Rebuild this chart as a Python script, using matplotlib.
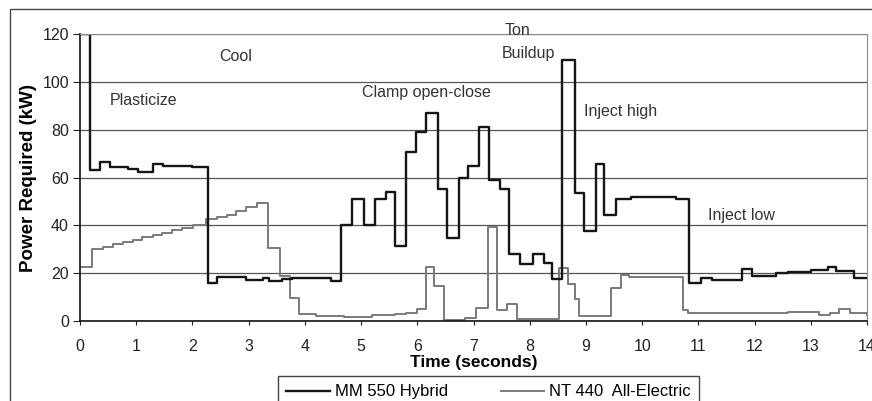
import matplotlib
matplotlib.use("Agg")
import matplotlib.pyplot as plt
from matplotlib.patches import Rectangle

plt.rcParams['font.family'] = ['Liberation Sans', 'DejaVu Sans']

# step start times (s) and power (kW) for each machine
hybrid_t = [0.00, 0.18, 0.36, 0.53, 0.85, 1.03, 1.30, 1.47, 2.00, 2.28,
            2.43, 2.70, 2.95, 3.25, 3.37, 3.60, 3.78, 4.47, 4.65, 4.83,
            5.06, 5.24, 5.45, 5.60, 5.80, 5.98, 6.16, 6.36, 6.52, 6.75,
            6.91, 7.10, 7.28, 7.48, 7.64, 7.82, 8.05, 8.25, 8.40, 8.58,
            8.80, 8.97, 9.18, 9.33, 9.53, 9.80, 10.20, 10.60, 10.83, 11.05,
            11.25, 11.78, 11.96, 12.38, 12.60, 13.00, 13.30, 13.45, 13.77, 14.00]
hybrid_kw = [120, 63, 66.5, 64.3, 63.6, 62.3, 65.8, 65, 64.5, 15.8,
             18.2, 18.6, 17.2, 17.8, 16.8, 17.6, 18.0, 16.8, 40.3, 51,
             40.3, 51, 53.8, 31.5, 70.6, 79, 87, 55, 34.5, 60,
             65, 81, 59, 55, 28, 24, 28, 24.4, 17.6, 109,
             53.4, 37.8, 65.5, 44.5, 51, 52, 51.8, 51, 16, 18,
             17.2, 21.8, 19, 20, 20.5, 21.2, 22.7, 21, 18, 18]

electric_t = [0.00, 0.21, 0.41, 0.59, 0.77, 0.95, 1.10, 1.30, 1.45, 1.63,
              1.81, 2.01, 2.25, 2.43, 2.61, 2.78, 2.96, 3.14, 3.34, 3.55,
              3.73, 3.90, 4.20, 4.70, 5.20, 5.60, 5.80, 6.00, 6.16, 6.30,
              6.48, 6.85, 7.05, 7.25, 7.42, 7.60, 7.78, 8.52, 8.68, 8.80,
              8.88, 9.45, 9.63, 9.77, 10.20, 10.72, 10.82, 11.50, 12.20, 12.60,
              13.15, 13.35, 13.50, 13.70, 14.00]
electric_kw = [22.7, 30, 31, 32, 33, 34, 35, 36, 37, 38,
               39, 40, 42.5, 43.5, 44.5, 46, 47.5, 49.5, 30.5, 18.8,
               9.5, 2.8, 2.0, 1.6, 2.4, 2.8, 3.5, 5, 22.5, 14.5,
               0.3, 1.2, 5.5, 39.5, 4.5, 7, 1, 22, 15.5, 9,
               2.2, 14, 19.3, 18.6, 18.4, 4.5, 3.2, 3.5, 3.2, 3.6,
               2.3, 3.3, 5.2, 3.5, 2.5]

# phase labels: text, time, kW
phase_labels = ["Plasticize", "Cool", "Clamp open-close", "Ton", "Buildup", "Inject high", "Inject low"]
phase_t = [0.53, 2.48, 5.02, 7.55, 7.51, 8.97, 11.17]
phase_kw = [92, 110.5, 95.5, 121.5, 112, 87.5, 44]

fig = plt.figure(figsize=(8.72, 4.01), dpi=100)
fig.patches.append(Rectangle((10 / 872, -0.1), 1.0, 1.1 - 9 / 401, transform=fig.transFigure,
                             fill=False, edgecolor='#444444', lw=1.0))

ax = fig.add_axes([80 / 872, 1 - 321 / 401, 787 / 872, 287 / 401])
ax.step(electric_t, electric_kw, where='post', color='#7a7a7a', lw=1.4, label='NT 440  All-Electric')
ax.step(hybrid_t, hybrid_kw, where='post', color='#151515', lw=1.7, label='MM 550 Hybrid')

ax.set_xlim(0, 14)
ax.set_ylim(0, 120)
ax.set_xticks(range(0, 15))
ax.set_yticks(range(0, 121, 20))
ax.yaxis.grid(True, color='#555555', lw=0.9)
ax.set_axisbelow(True)
ax.tick_params(labelsize=11.5, colors='#222222', direction='out')
ax.tick_params(axis='x', length=3, pad=10)
ax.tick_params(axis='y', length=5, pad=3)
for side in ['top', 'right']:
    ax.spines[side].set_color('#888888')
for side in ['left', 'bottom']:
    ax.spines[side].set_color('#111111')
    ax.spines[side].set_linewidth(1.2)

ax.set_xlabel('Time (seconds)', fontsize=12.5, fontweight='bold', labelpad=1)
ax.set_ylabel('Power Required (kW)', fontsize=13.5, fontweight='bold', labelpad=4)

for label, t, kw in zip(phase_labels, phase_t, phase_kw):
    ax.text(t, kw, label, fontsize=11.5, color='#333333', ha='left', va='center', clip_on=False)

handles, labels = ax.get_legend_handles_labels()
fig.legend(handles[::-1], labels[::-1], loc='upper left', bbox_to_anchor=(278 / 872, 1 - 376 / 401),
           ncol=2, fontsize=12, frameon=True, fancybox=False, edgecolor='#444444', framealpha=1,
           handlelength=2.6, handletextpad=0.3, columnspacing=3.2, borderpad=0.5, borderaxespad=0)

fig.savefig('out.png', dpi=100)
